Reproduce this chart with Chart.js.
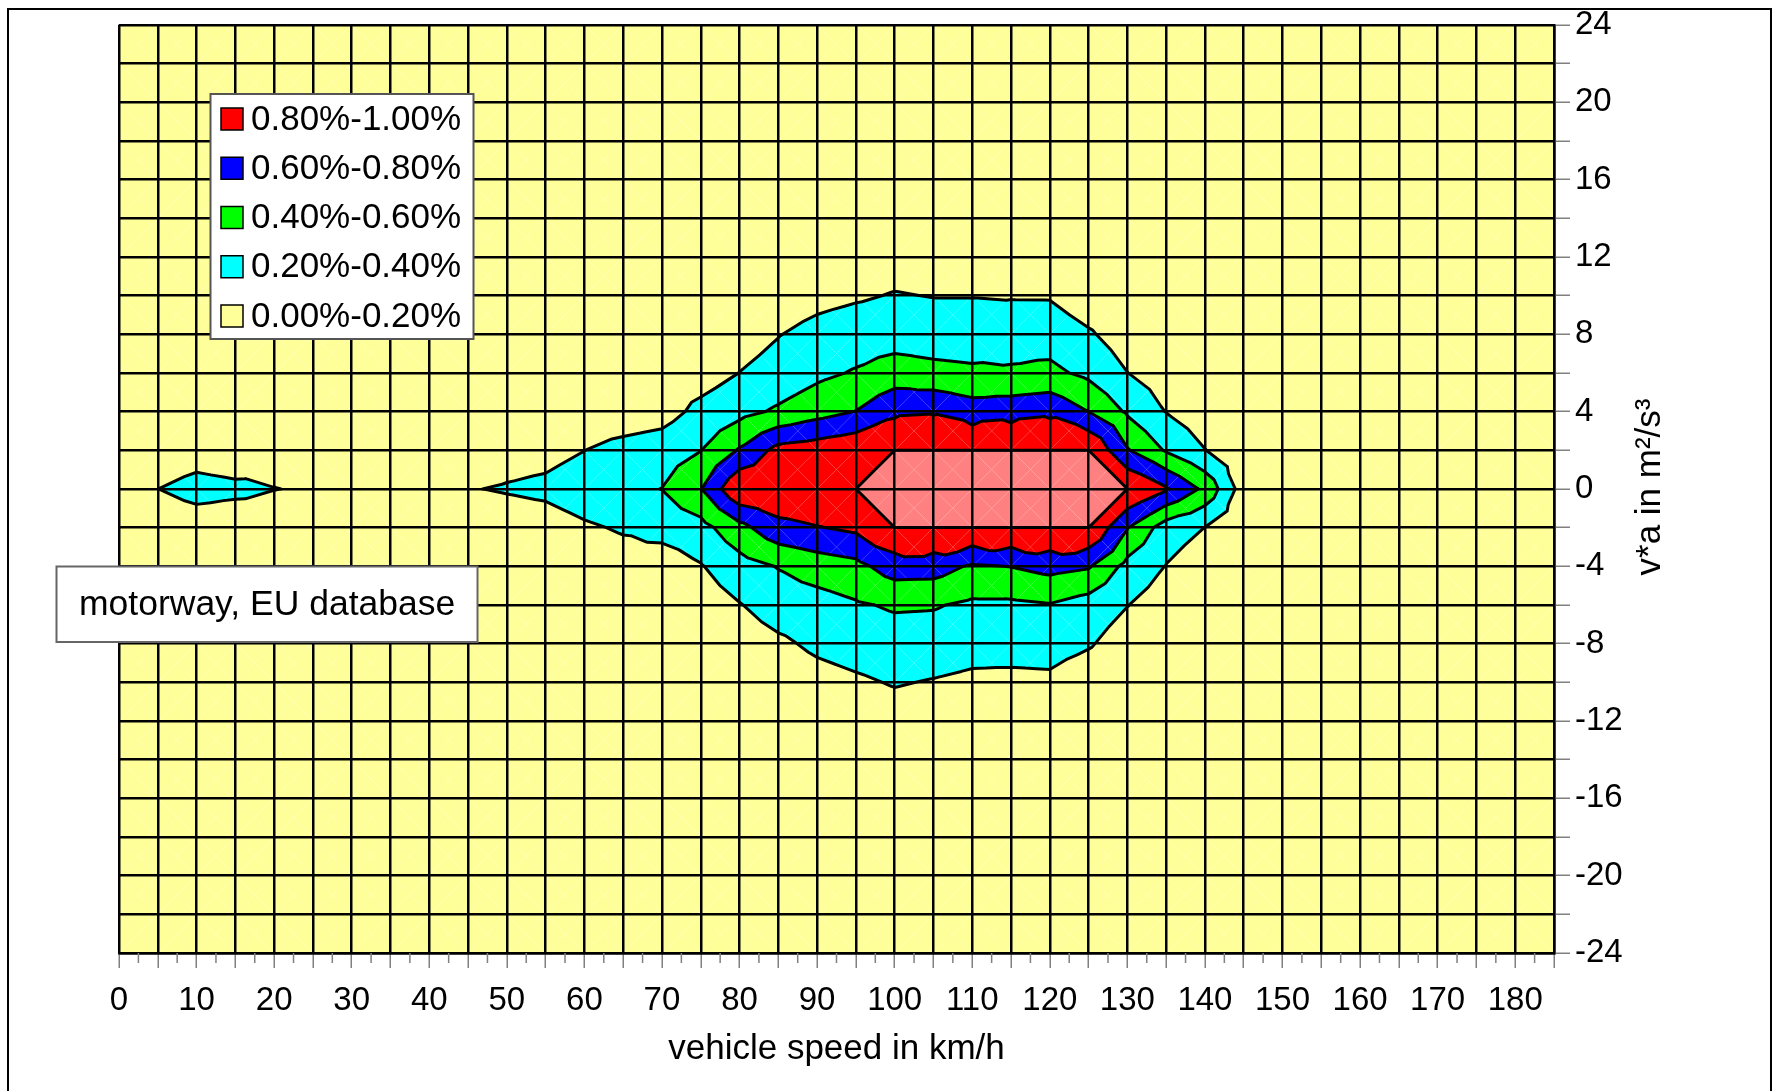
<!DOCTYPE html>
<html>
<head>
<meta charset="utf-8">
<script src="https://cdn.jsdelivr.net/npm/chart.js@4.4.0/dist/chart.umd.min.js"></script>
<style>
  html, body { margin: 0; padding: 0; background: #fff; }
  canvas { display: block; }
</style>
</head>
<body>
<canvas id="myChart" width="1773" height="1091"></canvas>
<script>
// 카테고리 (속도) 와 시리즈 (v*a) 값
const speeds = [0, 5, 10, 15, 20, 25, 30, 35, 40, 45, 50, 55, 60, 65, 70, 75, 80, 85, 90, 95,
  100, 105, 110, 115, 120, 125, 130, 135, 140, 145, 150, 155, 160, 165, 170, 175, 180, 185];
const vaSteps = [-24, -22, -20, -18, -16, -14, -12, -10, -8, -6, -4, -2, 0,
  2, 4, 6, 8, 10, 12, 14, 16, 18, 20, 22, 24];

// 각 v*a 행의 빈도 (%), 속도 0..185 순서
const rowM24 = [0,0,0,0,0,0,0,0,0,0, 0,0,0,0,0,0,0,0,0,0, 0,0,0,0,0,0,0,0,0,0, 0,0,0,0,0,0,0,0];
const rowM22 = [0,0,0,0,0,0,0,0,0,0, 0,0,0,0,0,0,0,0,0,0, 0,0,0,0,0,0,0,0,0,0, 0,0,0,0,0,0,0,0];
const rowM20 = [0,0,0,0,0,0,0,0,0,0, 0,0,0,0,0,0,0,0,0,0, 0,0,0,0,0,0,0,0,0,0, 0,0,0,0,0,0,0,0];
const rowM18 = [0,0,0,0,0,0,0,0,0,0, 0,0,0,0,0,0,0,0,0,0, 0,0,0,0,0,0,0,0,0,0, 0,0,0,0,0,0,0,0];
const rowM16 = [0,0,0,0,0,0,0,0,0,0, 0,0,0,0,0,0,0,0,0,0, 0,0,0,0,0,0,0,0,0,0, 0,0,0,0,0,0,0,0];
const rowM14 = [0,0,0,0,0,0,0,0,0,0, 0,0,0,0,0,0,0,0,0,0, 0,0,0,0,0,0,0,0,0,0, 0,0,0,0,0,0,0,0];
const rowM12 = [
  0, 0, 0, 0, 0, 0, 0, 0, 0, 0,
  0, 0, 0, 0, 0, 0, 0, 0.04, 0.06, 0.09,
  0.115, 0.10, 0.08, 0.08, 0.08, 0.04, 0, 0, 0, 0,
  0, 0, 0, 0, 0, 0, 0, 0];
const rowM10 = [
  0, 0, 0, 0, 0, 0, 0, 0, 0, 0,
  0, 0, 0, 0, 0, 0, 0.04, 0.08, 0.131, 0.172,
  0.213, 0.189, 0.161, 0.156, 0.162, 0.08, 0.04, 0.02, 0, 0,
  0, 0, 0, 0, 0, 0, 0, 0];
const rowM8 = [
  0, 0, 0, 0, 0, 0, 0, 0, 0, 0,
  0, 0, 0, 0.02, 0.03, 0.05, 0.10, 0.165, 0.238, 0.279,
  0.311, 0.302, 0.27, 0.269, 0.277, 0.22, 0.10, 0.05, 0.02, 0,
  0, 0, 0, 0, 0, 0, 0, 0];
const rowM6 = [
  0, 0, 0, 0, 0, 0, 0, 0, 0, 0,
  0, 0, 0.04, 0.05, 0.05, 0.10, 0.191, 0.29, 0.32, 0.379,
  0.423, 0.416, 0.365, 0.364, 0.39, 0.312, 0.205, 0.10, 0.04, 0.02,
  0, 0, 0, 0, 0, 0, 0, 0];
const rowM4 = [
  0, 0, 0, 0, 0, 0, 0, 0, 0.03, 0.04,
  0.05, 0.06, 0.08, 0.12, 0.08, 0.188, 0.322, 0.41, 0.493, 0.543,
  0.697, 0.69, 0.574, 0.605, 0.664, 0.62, 0.336, 0.194, 0.08, 0.03,
  0.01, 0, 0, 0, 0, 0, 0, 0];
const rowM2 = [
  0.05, 0.10, 0.125, 0.117, 0.136, 0.10, 0.06, 0.05, 0.06, 0.07,
  0.10, 0.115, 0.175, 0.219, 0.28, 0.33, 0.538, 0.74, 0.79, 0.842,
  1.10, 1.15, 1.10, 1.12, 1.12, 1.15, 0.61, 0.30, 0.198, 0.05,
  0.02, 0, 0, 0, 0, 0, 0, 0];
const row0 = [
  0.15, 0.199, 0.25, 0.23, 0.203, 0.186, 0.15, 0.12, 0.15, 0.191,
  0.215, 0.24, 0.30, 0.35, 0.403, 0.592, 0.985, 0.97, 0.98, 1.05,
  1.15, 1.25, 1.25, 1.25, 1.25, 1.20, 1.10, 0.82, 0.555, 0.10,
  0.05, 0.02, 0, 0, 0, 0, 0, 0];
const row2 = [
  0.05, 0.10, 0.134, 0.11, 0.151, 0.10, 0.06, 0.05, 0.06, 0.08,
  0.124, 0.141, 0.198, 0.26, 0.30, 0.396, 0.618, 0.865, 0.908, 0.963,
  1.10, 1.15, 1.12, 1.12, 1.12, 1.15, 0.616, 0.38, 0.205, 0.05,
  0.02, 0, 0, 0, 0, 0, 0, 0];
const row4 = [
  0, 0, 0, 0, 0, 0, 0, 0, 0.03, 0.04,
  0.05, 0.06, 0.08, 0.09, 0.12, 0.254, 0.338, 0.43, 0.523, 0.605,
  0.758, 0.778, 0.69, 0.718, 0.755, 0.598, 0.372, 0.194, 0.08, 0.03,
  0.01, 0, 0, 0, 0, 0, 0, 0];
const row6 = [
  0, 0, 0, 0, 0, 0, 0, 0, 0, 0,
  0.02, 0.03, 0.05, 0.06, 0.08, 0.11, 0.202, 0.268, 0.355, 0.417,
  0.495, 0.457, 0.44, 0.423, 0.445, 0.355, 0.202, 0.10, 0.04, 0.02,
  0, 0, 0, 0, 0, 0, 0, 0];
const row8 = [
  0, 0, 0, 0, 0, 0, 0, 0, 0, 0,
  0, 0, 0.02, 0.04, 0.06, 0.08, 0.12, 0.193, 0.256, 0.294,
  0.305, 0.296, 0.277, 0.32, 0.316, 0.224, 0.10, 0.05, 0.02, 0,
  0, 0, 0, 0, 0, 0, 0, 0];
const row10 = [
  0, 0, 0, 0, 0, 0, 0, 0, 0, 0,
  0, 0, 0, 0, 0.02, 0.04, 0.07, 0.10, 0.146, 0.178,
  0.21, 0.194, 0.194, 0.186, 0.184, 0.079, 0.04, 0.02, 0, 0,
  0, 0, 0, 0, 0, 0, 0, 0];
const row12 = [
  0, 0, 0, 0, 0, 0, 0, 0, 0, 0,
  0, 0, 0, 0, 0, 0, 0.03, 0.06, 0.08, 0.10,
  0.12, 0.11, 0.10, 0.10, 0.10, 0.05, 0.02, 0, 0, 0,
  0, 0, 0, 0, 0, 0, 0, 0];
const row14 = [0,0,0,0,0,0,0,0,0,0, 0,0,0,0,0,0,0,0,0,0, 0,0,0,0,0,0,0,0,0,0, 0,0,0,0,0,0,0,0];
const row16 = [0,0,0,0,0,0,0,0,0,0, 0,0,0,0,0,0,0,0,0,0, 0,0,0,0,0,0,0,0,0,0, 0,0,0,0,0,0,0,0];
const row18 = [0,0,0,0,0,0,0,0,0,0, 0,0,0,0,0,0,0,0,0,0, 0,0,0,0,0,0,0,0,0,0, 0,0,0,0,0,0,0,0];
const row20 = [0,0,0,0,0,0,0,0,0,0, 0,0,0,0,0,0,0,0,0,0, 0,0,0,0,0,0,0,0,0,0, 0,0,0,0,0,0,0,0];
const row22 = [0,0,0,0,0,0,0,0,0,0, 0,0,0,0,0,0,0,0,0,0, 0,0,0,0,0,0,0,0,0,0, 0,0,0,0,0,0,0,0];
const row24 = [0,0,0,0,0,0,0,0,0,0, 0,0,0,0,0,0,0,0,0,0, 0,0,0,0,0,0,0,0,0,0, 0,0,0,0,0,0,0,0];

const surface = [rowM24, rowM22, rowM20, rowM18, rowM16, rowM14, rowM12, rowM10, rowM8, rowM6,
  rowM4, rowM2, row0, row2, row4, row6, row8, row10, row12, row14, row16, row18, row20, row22, row24];

// 등고선 구간
const levels = [0.2, 0.4, 0.6, 0.8];
const axisMax = 1.0;
const bandLabels = ["0.00%-0.20%", "0.20%-0.40%", "0.40%-0.60%", "0.60%-0.80%", "0.80%-1.00%"];
const bandColors = ["#FFFF99", "#00FFFF", "#00FF00", "#0000FF", "#FF0000"];
const overColor = "#FF8080";
const noteText = "motorway, EU database";

const FONT = "'Liberation Sans', Arial, sans-serif";

// 값 기준으로 다각형 자르기
function cut(poly, level, keepAbove) {
  const out = [];
  for (let i = 0; i < poly.length; i++) {
    const p = poly[i], q = poly[(i + 1) % poly.length];
    const pin = keepAbove ? p.z >= level : p.z <= level;
    const qin = keepAbove ? q.z >= level : q.z <= level;
    if (pin) out.push(p);
    if (pin !== qin) {
      const t = (level - p.z) / (q.z - p.z);
      out.push({ x: p.x + t * (q.x - p.x), y: p.y + t * (q.y - p.y), z: level });
    }
  }
  return out;
}

const contourPlugin = {
  id: "contour",
  beforeDatasetsDraw(chart) {
    const { ctx, chartArea: a } = chart;
    const sx = chart.scales.x, sy = chart.scales.y;
    const tris = [];
    const pt = (i, j) => ({ x: speeds[i], y: vaSteps[j], z: surface[j][i] });
    for (let j = 0; j < vaSteps.length - 1; j++) {
      for (let i = 0; i < speeds.length - 1; i++) {
        const c0 = pt(i, j), c1 = pt(i + 1, j), c2 = pt(i + 1, j + 1), c3 = pt(i, j + 1);
        const m = { x: (c0.x + c1.x) / 2, y: (c0.y + c3.y) / 2, z: (c0.z + c1.z + c2.z + c3.z) / 4 };
        tris.push([c0, c1, m], [c1, c2, m], [c2, c3, m], [c3, c0, m]);
      }
    }
    ctx.save();
    ctx.beginPath();
    ctx.rect(a.left, a.top, a.right - a.left, a.bottom - a.top);
    ctx.clip();
    const path = poly => {
      ctx.beginPath();
      poly.forEach((q, k) => {
        const X = sx.getPixelForValue(q.x), Y = sy.getPixelForValue(q.y);
        if (k) ctx.lineTo(X, Y); else ctx.moveTo(X, Y);
      });
      ctx.closePath();
    };
    const clipped = [];
    tris.forEach(t => {
      if (Math.min(t[0].z, t[1].z, t[2].z) >= axisMax) {
        ctx.fillStyle = overColor;
        path(t);
        ctx.fill();
        return;
      }
      const tc = t.map(q => ({ x: q.x, y: q.y, z: Math.min(q.z, axisMax) }));
      clipped.push(tc);
      bandColors.forEach((col, k) => {
        let poly = tc;
        if (k > 0) poly = cut(poly, levels[k - 1], true);
        if (k < levels.length && poly.length) poly = cut(poly, levels[k], false);
        if (poly.length >= 3) {
          ctx.fillStyle = col;
          path(poly);
          ctx.fill();
        }
      });
    });
    // 등고선
    const lineLevels = levels.concat([axisMax - 1e-6]);
    ctx.strokeStyle = "#000";
    ctx.lineWidth = 3;
    ctx.lineCap = "round";
    ctx.lineJoin = "round";
    ctx.beginPath();
    clipped.forEach(tc => {
      lineLevels.forEach(L => {
        const pts = [];
        for (let e = 0; e < 3; e++) {
          const p = tc[e], q = tc[(e + 1) % 3];
          if ((p.z < L) !== (q.z < L)) {
            const f = (L - p.z) / (q.z - p.z);
            pts.push([sx.getPixelForValue(p.x + f * (q.x - p.x)), sy.getPixelForValue(p.y + f * (q.y - p.y))]);
          }
        }
        if (pts.length === 2) {
          ctx.moveTo(pts[0][0], pts[0][1]);
          ctx.lineTo(pts[1][0], pts[1][1]);
        }
      });
    });
    ctx.stroke();
    ctx.restore();
  }
};

const decorPlugin = {
  id: "decor",
  afterDraw(chart) {
    const { ctx, chartArea: a } = chart;
    const sx = chart.scales.x;
    ctx.save();
    // 보조 눈금
    ctx.strokeStyle = "#808080";
    ctx.lineWidth = 1.5;
    ctx.beginPath();
    for (let k = 0; k < speeds.length - 1; k++) {
      const X = sx.getPixelForValue((speeds[k] + speeds[k + 1]) / 2);
      ctx.moveTo(X, a.bottom);
      ctx.lineTo(X, a.bottom + 10);
    }
    ctx.stroke();

    // 범례
    ctx.fillStyle = "#fff";
    ctx.fillRect(210.5, 94, 263, 245);
    ctx.strokeStyle = "#555";
    ctx.lineWidth = 2;
    ctx.strokeRect(210.5, 94, 263, 245);
    ctx.font = "35px " + FONT;
    ctx.textBaseline = "middle";
    ctx.textAlign = "left";
    for (let r = 0; r < bandLabels.length; r++) {
      const k = bandLabels.length - 1 - r;
      const cy = 119 + r * 49.25;
      ctx.fillStyle = bandColors[k];
      ctx.fillRect(221, cy - 11, 22, 22);
      ctx.strokeStyle = "#000";
      ctx.lineWidth = 1.5;
      ctx.strokeRect(221, cy - 11, 22, 22);
      ctx.fillStyle = "#000";
      ctx.fillText(bandLabels[k], 251, cy + 1);
    }

    // 메모 상자
    ctx.fillStyle = "#fff";
    ctx.fillRect(56.5, 566.5, 421, 75.5);
    ctx.strokeStyle = "#666";
    ctx.lineWidth = 2;
    ctx.strokeRect(56.5, 566.5, 421, 75.5);
    ctx.fillStyle = "#000";
    ctx.font = "35.5px " + FONT;
    ctx.fillText(noteText, 79, 605);

    // y 축 제목
    ctx.save();
    ctx.translate(1650, 487);
    ctx.rotate(-Math.PI / 2);
    ctx.textAlign = "center";
    ctx.font = "35px " + FONT;
    ctx.fillText("v*a in m²/s³", 0, 0);
    ctx.restore();

    // 바깥 테두리
    ctx.strokeStyle = "#000";
    ctx.lineWidth = 2;
    ctx.strokeRect(8, 9, 1763, 1200);
    ctx.restore();
  }
};

Chart.defaults.font.family = FONT;
Chart.defaults.color = "#000";

const ctx = document.getElementById("myChart").getContext("2d");
const myChart = new Chart(ctx, {
  type: "scatter",
  data: { datasets: [] },
  options: {
    responsive: false,
    animation: false,
    layout: { padding: { left: 119, top: 23, right: 0, bottom: 0 } },
    plugins: { legend: { display: false }, tooltip: { enabled: false } },
    scales: {
      x: {
        type: "linear",
        position: "bottom",
        min: 0,
        max: 185,
        afterFit: s => { s.height = 138; },
        ticks: {
          stepSize: 5,
          autoSkip: false,
          maxRotation: 0,
          padding: 13,
          font: { size: 33 },
          callback: v => (v % 10 === 0 ? String(v) : "")
        },
        grid: { color: "#000", lineWidth: 2.5, z: 1, tickLength: 15, tickColor: "#808080", tickWidth: 1.5 },
        border: { color: "#000", width: 2.5, z: 1 },
        title: { display: true, text: "vehicle speed in km/h", font: { size: 35 }, padding: { top: 0, bottom: 21 } }
      },
      y: {
        type: "linear",
        position: "right",
        min: -24,
        max: 24,
        afterFit: s => { s.width = 219; },
        ticks: {
          stepSize: 2,
          autoSkip: false,
          padding: 5,
          font: { size: 33 },
          callback: v => (v % 4 === 0 ? String(v) : "")
        },
        grid: { color: "#000", lineWidth: 2.5, z: 1, tickLength: 16, tickColor: "#808080", tickWidth: 1.5 },
        border: { color: "#000", width: 2.5, z: 1 }
      }
    }
  },
  plugins: [contourPlugin, decorPlugin]
});
</script>
</body>
</html>
